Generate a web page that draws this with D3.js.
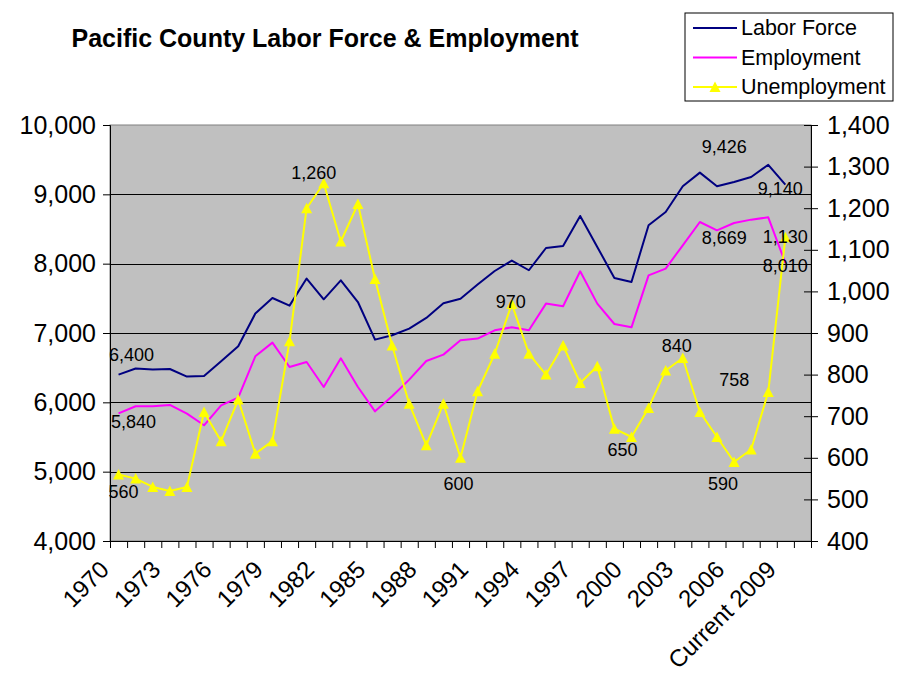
<!DOCTYPE html>
<html>
<head>
<meta charset="utf-8">
<script src="https://cdn.jsdelivr.net/npm/d3@7"></script>
<style>
  body { margin: 0; background: #ffffff; }
  svg { font-family: "Liberation Sans", Arial, sans-serif; }
</style>
</head>
<body>
<svg id="chart" width="899" height="694"></svg>
<script>
// Categories (the last one is an empty slot, as in the original workbook)
const categories = [
    '1970', '1971', '1972', '1973', '1974', '1975', '1976', '1977', '1978', '1979',
    '1980', '1981', '1982', '1983', '1984', '1985', '1986', '1987', '1988', '1989',
    '1990', '1991', '1992', '1993', '1994', '1995', '1996', '1997', '1998', '1999',
    '2000', '2001', '2002', '2003', '2004', '2005', '2006', '2007', '2008', 'Current 2009', ''
];

// Left axis series
const laborForce = [
    6400, 6487, 6472, 6481, 6371, 6380, 6592, 6808, 7280, 7505,
    7395, 7785, 7486, 7760, 7447, 6904, 6967, 7063, 7217, 7428,
    7493, 7698, 7894, 8044, 7905, 8226, 8255, 8688, 8241, 7794,
    7736, 8554, 8746, 9116, 9313, 9116, 9178, 9250, 9426, 9140
];
const employment = [
    5840, 5943, 5943, 5962, 5837, 5669, 5957, 6068, 6664, 6861,
    6510, 6582, 6221, 6635, 6221, 5870, 6087, 6328, 6596, 6688,
    6895, 6919, 7039, 7082, 7039, 7424, 7385, 7890, 7424, 7130,
    7082, 7832, 7929, 8265, 8601, 8481, 8587, 8635, 8669, 8010
];

// Right axis series
const unemployment = [
    560, 550, 530, 520, 530, 710, 640, 740, 610, 640,
    880, 1200, 1260, 1120, 1210, 1030, 870, 730, 630, 730,
    600, 760, 850, 970, 850, 800, 870, 780, 820, 670,
    650, 720, 810, 840, 710, 650, 590, 620, 758, 1130
];

const leftTicks = [4000, 5000, 6000, 7000, 8000, 9000, 10000];
const rightTicks = [400, 500, 600, 700, 800, 900, 1000, 1100, 1200, 1300, 1400];

const title = 'Pacific County Labor Force & Employment';

const svg = d3.select('#chart');
const margin = { top: 125, right: 88, bottom: 153, left: 110 };
const width = 899 - margin.left - margin.right;
const height = 694 - margin.top - margin.bottom;

const chart = svg.append('g').attr('transform', `translate(${margin.left}, ${margin.top})`);

// Scales
const xBand = d3.scaleBand().domain(categories).range([0, width]);
const xEdge = d3.scaleLinear().domain([0, categories.length]).range([0, width]);
const yLeft = d3.scaleLinear().domain([4000, 10000]).range([height, 0]);
const yRight = d3.scaleLinear().domain([400, 1400]).range([height, 0]);
const xCenter = (i) => xBand(categories[i]) + xBand.bandwidth() / 2;

// Plot area
chart.append('rect')
    .attr('width', width).attr('height', height)
    .attr('fill', '#c0c0c0').attr('stroke', '#808080');

// Gridlines
chart.append('g')
    .selectAll('line')
    .data(leftTicks.slice(1, -1))
    .join('line')
    .attr('x1', 0).attr('x2', width)
    .attr('y1', (d) => Math.round(yLeft(d)) + 0.5)
    .attr('y2', (d) => Math.round(yLeft(d)) + 0.5)
    .attr('stroke', '#000000');

// Axes
const fmt = d3.format(',');
const leftAxis = chart.append('g')
    .call(d3.axisLeft(yLeft).tickValues(leftTicks).tickFormat(fmt).tickSize(7).tickPadding(7));
const rightAxis = chart.append('g')
    .attr('transform', `translate(${width}, 0)`)
    .call(d3.axisRight(yRight).tickValues(rightTicks).tickFormat(fmt).tickSize(7).tickPadding(9));
rightAxis.selectAll('.tick line').attr('x1', -7);
const bottomAxis = chart.append('g')
    .attr('transform', `translate(0, ${height})`)
    .call(d3.axisBottom(xEdge).tickValues(d3.range(categories.length + 1)).tickFormat('').tickSize(7));

[leftAxis, rightAxis, bottomAxis].forEach((ax) => {
    ax.select('.domain').attr('stroke', '#000000');
    ax.selectAll('.tick line').attr('stroke', '#000000');
    ax.selectAll('text').attr('font-size', 25).attr('fill', '#000000')
        .attr('font-family', '"Liberation Sans", Arial, sans-serif');
});

// Category labels, every third one, rotated
chart.append('g')
    .selectAll('text')
    .data(categories.filter((c, i) => i % 3 === 0 && c !== ''))
    .join('text')
    .attr('transform', (c) => `translate(${xBand(c) + xBand.bandwidth() / 2 - 8}, ${height + 30}) rotate(-45)`)
    .attr('text-anchor', 'end')
    .attr('font-size', 24)
    .text((c) => c);

// Lines
const seriesList = [
    { name: 'Labor Force', values: laborForce, y: yLeft, color: '#000080' },
    { name: 'Employment', values: employment, y: yLeft, color: '#ff00ff' },
    { name: 'Unemployment', values: unemployment, y: yRight, color: '#ffff00', marker: true }
];

seriesList.forEach((s) => {
    chart.append('path')
        .datum(s.values)
        .attr('fill', 'none')
        .attr('stroke', s.color)
        .attr('stroke-width', 2)
        .attr('stroke-linejoin', 'round')
        .attr('d', d3.line().x((v, i) => xCenter(i)).y((v) => s.y(v)));
    if (s.marker) {
        chart.append('g')
            .selectAll('path')
            .data(s.values)
            .join('path')
            .attr('transform', (v, i) => `translate(${xCenter(i)}, ${s.y(v)})`)
            .attr('d', 'M0,-5.5L5.5,5L-5.5,5Z')
            .attr('fill', s.color);
    }
});

// Data labels: [series index, point index, dx, dy]
const labelSpots = [
    [0, 0, 13, -20], [0, 38, -44, -18], [0, 39, -5, 4],
    [1, 0, 15, 9], [1, 38, -44, 21], [1, 39, 0, 3],
    [2, 0, 5, 18], [2, 12, -10, -10], [2, 20, -2, 26], [2, 23, -1, -2],
    [2, 30, -9, 13], [2, 33, -6, -12], [2, 36, -11, 22], [2, 38, -34, -12], [2, 39, 0, 0]
];
chart.append('g')
    .selectAll('text')
    .data(labelSpots)
    .join('text')
    .attr('x', ([s, i, dx]) => xCenter(i) + dx)
    .attr('y', ([s, i, dx, dy]) => seriesList[s].y(seriesList[s].values[i]) + dy)
    .attr('text-anchor', 'middle')
    .attr('dominant-baseline', 'central')
    .attr('font-size', 18)
    .text(([s, i]) => fmt(seriesList[s].values[i]));

// Title
svg.append('text')
    .attr('x', 325).attr('y', 47)
    .attr('text-anchor', 'middle')
    .attr('font-size', 25).attr('font-weight', 'bold')
    .text(title);

// Legend
const legend = svg.append('g').attr('transform', 'translate(685, 13)');
legend.append('rect')
    .attr('width', 208).attr('height', 88)
    .attr('fill', '#ffffff').attr('stroke', '#000000');
const rows = legend.selectAll('g')
    .data(seriesList)
    .join('g')
    .attr('transform', (s, i) => `translate(0, ${15 + i * 29.5})`);
rows.append('line')
    .attr('x1', 8).attr('x2', 52)
    .attr('stroke', (s) => s.color).attr('stroke-width', 2);
rows.filter((s) => s.marker).append('path')
    .attr('transform', 'translate(30, 0)')
    .attr('d', 'M0,-5.5L5.5,5L-5.5,5Z')
    .attr('fill', (s) => s.color);
rows.append('text')
    .attr('x', 56)
    .attr('dominant-baseline', 'central')
    .attr('font-size', 21.5)
    .text((s) => s.name);
</script>
</body>
</html>
